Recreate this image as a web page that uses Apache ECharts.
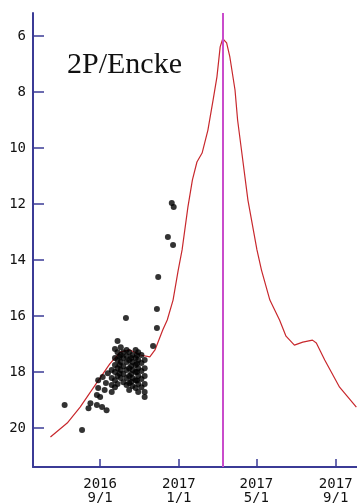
<!DOCTYPE html>
<html>
<head>
<meta charset="utf-8">
<script src="https://cdn.jsdelivr.net/npm/echarts@6/dist/echarts.min.js"></script>
<style>
html,body{margin:0;padding:0;background:#fff;}
#chart{width:357px;height:503px;}
</style>
</head>
<body>
<div id="chart"></div>
<script>
const titleText = '2P/Encke';

const curveDates = ['2016-06-16','2016-07-12','2016-08-01','2016-09-01','2016-09-16','2016-10-02','2016-10-17','2016-11-02','2016-11-17','2016-11-25','2016-12-07','2016-12-14','2016-12-23','2016-12-31','2017-01-06','2017-01-15','2017-01-22','2017-01-29','2017-02-06','2017-02-15','2017-02-23','2017-03-01','2017-03-06','2017-03-10','2017-03-16','2017-03-21','2017-03-29','2017-04-02','2017-04-08','2017-04-18','2017-05-02','2017-05-09','2017-05-22','2017-06-06','2017-06-16','2017-06-29','2017-07-12','2017-07-27','2017-08-02','2017-08-15','2017-09-07','2017-10-03'];
const curveMags = [20.32,19.82,19.25,18.21,17.71,17.29,17.21,17.39,17.46,17.21,16.5,16.14,15.43,14.36,13.64,12.11,11.14,10.5,10.18,9.36,8.29,7.46,6.39,6.1,6.25,6.75,7.93,9.0,10.07,11.86,13.64,14.36,15.43,16.14,16.72,17.04,16.93,16.86,16.96,17.57,18.54,19.25];

const obsDates = ['2016-07-08','2016-08-04','2016-08-14','2016-08-17','2016-08-27','2016-08-27','2016-08-29','2016-08-29','2016-09-01','2016-09-04','2016-09-05','2016-09-08','2016-09-10','2016-09-11','2016-09-13',
'2016-09-19','2016-09-19','2016-09-19','2016-09-19',
'2016-09-24','2016-09-24','2016-09-24','2016-09-24','2016-09-24','2016-09-24',
'2016-09-28','2016-09-28','2016-09-28','2016-09-28','2016-09-28','2016-09-28',
'2016-10-01','2016-10-01','2016-10-01',
'2016-10-03','2016-10-03','2016-10-03','2016-10-03','2016-10-03',
'2016-10-07','2016-10-07','2016-10-07','2016-10-07','2016-10-07',
'2016-10-11',
'2016-10-12','2016-10-12','2016-10-12','2016-10-12','2016-10-12','2016-10-12',
'2016-10-16','2016-10-16','2016-10-16','2016-10-16','2016-10-16','2016-10-16',
'2016-10-19','2016-10-19','2016-10-19','2016-10-19',
'2016-10-21','2016-10-21','2016-10-21','2016-10-21','2016-10-21',
'2016-10-26','2016-10-26','2016-10-26','2016-10-26','2016-10-26','2016-10-26',
'2016-10-28','2016-10-28','2016-10-28','2016-10-28',
'2016-10-30','2016-10-30','2016-10-30','2016-10-30','2016-10-30','2016-10-30',
'2016-11-04','2016-11-04','2016-11-04','2016-11-04','2016-11-04',
'2016-11-09','2016-11-09','2016-11-09','2016-11-09','2016-11-09','2016-11-09',
'2016-11-22','2016-11-28','2016-11-28','2016-11-30','2016-12-15','2016-12-21','2016-12-23','2016-12-24'];
const obsMags = [19.18,20.07,19.29,19.11,18.82,19.18,18.29,18.57,18.89,19.25,18.18,18.64,18.39,19.36,18.04,
17.93,18.21,18.46,18.71,
17.18,17.5,17.75,18.0,18.29,18.54,
16.89,17.29,17.57,17.86,18.14,18.43,
17.45,17.75,18.05,
17.11,17.39,17.64,17.93,18.21,
17.29,17.5,17.79,18.07,18.36,
16.07,
17.21,17.43,17.64,17.93,18.21,18.46,
17.29,17.57,17.86,18.14,18.39,18.64,
17.5,17.78,18.07,18.35,
17.39,17.64,17.93,18.21,18.5,
17.21,17.5,17.75,18.0,18.29,18.57,
17.4,17.7,18.0,18.3,
17.29,17.57,17.86,18.14,18.43,18.71,
17.39,17.68,17.96,18.25,18.54,
17.57,17.86,18.14,18.43,18.71,18.89,
17.07,15.75,16.43,14.61,13.18,11.96,13.46,12.11];

const perihelionDate = '2017-03-10';
const xTickDates = ['2016-09-01','2017-01-01','2017-05-01','2017-09-01'];
const yTicks = [6,8,10,12,14,16,18,20];
const xRange = ['2016-05-20','2017-10-04'];
const yRange = [5.18,21.39];

function ts(s){const p=s.split('-').map(Number);return new Date(p[0],p[1]-1,p[2]).getTime();}

const chart = echarts.init(document.getElementById('chart'), null, {renderer:'canvas'});
const axisColor = '#3b3b96';
const labelFont = {fontFamily:'DejaVu Sans Mono', fontSize:14, color:'#111'};

chart.setOption({
  backgroundColor:'#ffffff',
  animation:false,
  title:{text:titleText,left:67,top:50,padding:0,
    textStyle:{fontFamily:'Liberation Serif',fontSize:30,fontWeight:'normal',color:'#111'}},
  grid:{left:33,right:0,top:13,bottom:36,containLabel:false,outerBoundsMode:'none'},
  xAxis:{type:'value',min:ts(xRange[0]),max:ts(xRange[1]),scale:true,
    axisLine:{show:true,lineStyle:{color:axisColor,width:2}},
    axisTick:{show:true,inside:true,length:8,lineStyle:{color:axisColor,width:1.5},customValues:xTickDates.map(ts)},
    axisLabel:Object.assign({show:true,margin:10,lineHeight:14,customValues:xTickDates.map(ts),hideOverlap:false,
      formatter:function(v){const d=new Date(v);return d.getFullYear()+'\n'+(d.getMonth()+1)+'/'+d.getDate();}},labelFont),
    splitLine:{show:false},minorTick:{show:false}},
  yAxis:{type:'value',inverse:true,min:yRange[0],max:yRange[1],
    axisLine:{show:true,lineStyle:{color:axisColor,width:2}},
    axisTick:{show:true,inside:true,length:11,lineStyle:{color:axisColor,width:1.5},customValues:yTicks},
    axisLabel:Object.assign({show:true,margin:7,customValues:yTicks,formatter:function(v){return String(v);}},labelFont),
    splitLine:{show:false}},
  series:[
    {type:'line',data:curveDates.map((d,i)=>[ts(d),curveMags[i]]),showSymbol:false,symbol:'none',
      lineStyle:{color:'#c8282d',width:1.2},z:2,
      markLine:{silent:true,symbol:['none','none'],label:{show:false},
        lineStyle:{color:'#c94ccb',width:2,type:'solid'},data:[{xAxis:ts(perihelionDate)}]}},
    {type:'scatter',data:obsDates.map((d,i)=>[ts(d),obsMags[i]]),symbol:'circle',symbolSize:6,
      itemStyle:{color:'#000'},z:3}
  ]
});
</script>
</body>
</html>
